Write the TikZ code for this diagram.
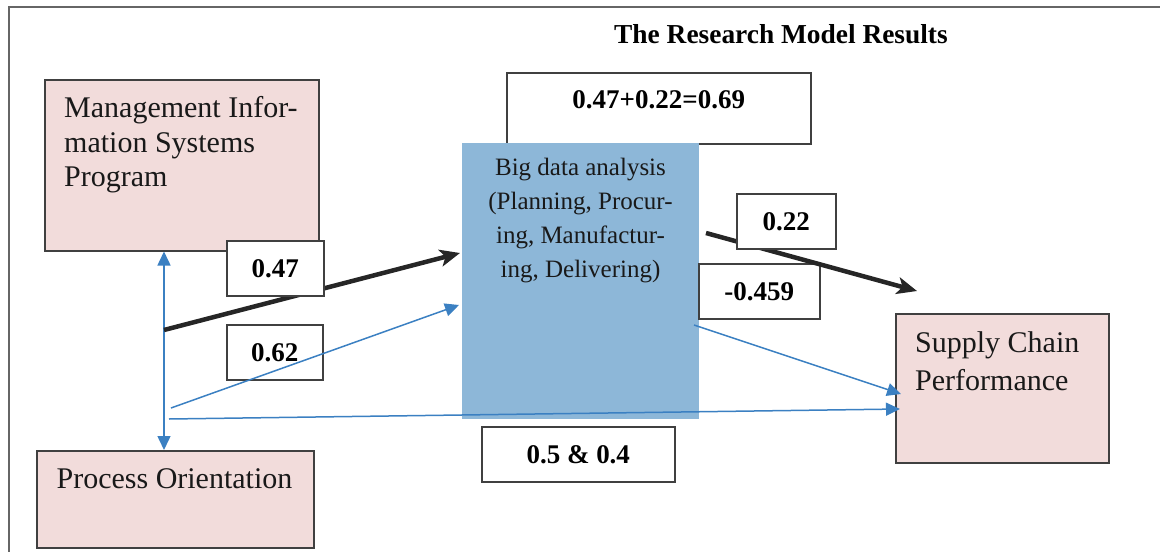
\documentclass[tikz,border=0pt]{standalone}
\usepackage{fontspec}
\setmainfont{Liberation Serif}
\usetikzlibrary{arrows.meta}
\definecolor{pinkfill}{HTML}{F2DCDB}
\definecolor{bluefill}{HTML}{8DB7D8}
\definecolor{boxline}{HTML}{404040}
\definecolor{arrowblue}{HTML}{3B80C2}
\definecolor{darkline}{HTML}{262626}
\definecolor{frameline}{HTML}{666666}
\tikzset{
  pinkbox/.style={draw=boxline, fill=pinkfill, line width=1.5pt, inner sep=0pt, anchor=north west},
  valbox/.style={draw=boxline, fill=white, line width=1.5pt, inner sep=0pt, anchor=north west,
    font=\fontsize{27}{32}\selectfont\bfseries, text height=18.3pt, text depth=0pt},
  bigbox/.style={fill=bluefill, draw=none, inner sep=0pt, anchor=north west},
  bodytext/.style={inner sep=0pt, font=\fontsize{30}{34.5}\selectfont, text=black!90},
  thickarrow/.style={line width=4.5pt, draw=darkline, -{Stealth[length=20pt,width=17pt,inset=5pt]}},
  bluearrow/.style={line width=1.5pt, draw=arrowblue, -{Triangle[length=14pt,width=13pt]}},
  bluedouble/.style={line width=1.5pt, draw=arrowblue, {Triangle[length=14pt,width=13pt]}-{Triangle[length=14pt,width=13pt]}},
}
\begin{document}
\begin{tikzpicture}[x=1pt,y=-1pt]
\useasboundingbox (0,0) rectangle (1160,552);
% frame
\coordinate (frtl) at (9,7);
\coordinate (frtr) at (1160,7);
\coordinate (frbl) at (9,552);
\draw[frameline, line width=2pt] (frtr) -- (frtl) -- (frbl);

% title
\node[inner sep=0pt, anchor=base, font=\fontsize{27.4}{32}\selectfont\bfseries] (title) at (781,43) {The Research Model Results};

% boxes
\node[pinkbox, minimum width=274pt, minimum height=171pt] (mis) at (44,79) {};
\node[bodytext, anchor=north west, align=left] (mistxt) at (64,96.5) {Management Infor-\\mation Systems\\Program};

\node[pinkbox, minimum width=277pt, minimum height=97pt] (po) at (36,450) {};
\node[bodytext, anchor=base] (potxt) at (174.5,488) {Process Orientation};

\node[pinkbox, minimum width=213pt, minimum height=149pt] (scp) at (895,313) {};
\node[bodytext, anchor=north west, align=left, font=\fontsize{30}{38}\selectfont] (scptxt) at (915,331.5) {Supply Chain\\Performance};

\node[valbox, minimum width=304pt, minimum height=71pt, text depth=17pt] (v69) at (506,72) {0.47+0.22=0.69};

\node[bigbox, minimum width=237pt, minimum height=276pt] (bd) at (462,143) {};
\node[inner sep=0pt, anchor=north, align=center, font=\fontsize{25}{34}\selectfont, text=black!90] (bdtxt) at (580.5,158) {Big data analysis\\(Planning, Procur-\\ing, Manufactur-\\ing, Delivering)};

\node[valbox, minimum width=193pt, minimum height=55pt] (v54) at (481,426) {0.5 \& 0.4};

\node[valbox, minimum width=96pt, minimum height=55pt] (v62) at (226,324) {0.62};
\node[valbox, minimum width=121pt, minimum height=55pt] (v459) at (698,263) {-0.459};

% endpoints
\coordinate (vx) at (164,0);
\coordinate (s47) at (164,330);
\coordinate (t47) at (460,253);
\coordinate (s22) at (706,233);
\coordinate (t22) at (917,291);
\coordinate (s62) at (171,408);
\coordinate (t62) at (459,305);
\coordinate (sh) at (169,419);
\coordinate (th) at (900,409);
\coordinate (sb) at (694,325);
\coordinate (tb) at (901,394);

% connectors
\draw[bluedouble] (po.north -| vx) -- (mis.south -| vx);
\draw[bluearrow] (s62) -- (t62);
\draw[bluearrow] (sh) -- (th);
\draw[bluearrow] (sb) -- (tb);
\draw[thickarrow] (s47) -- (t47);
\draw[thickarrow] (s22) -- (t22);

% value boxes on top
\node[valbox, minimum width=97pt, minimum height=55pt] (v47) at (226,240) {0.47};
\node[valbox, minimum width=99pt, minimum height=55pt] (v22) at (736,193) {0.22};
\end{tikzpicture}
\end{document}
